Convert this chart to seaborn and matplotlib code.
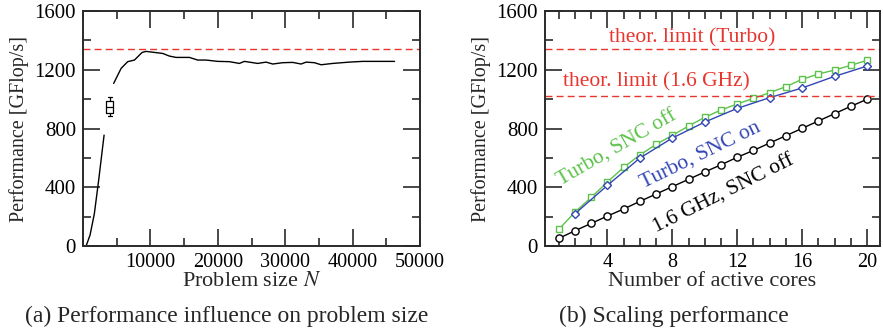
import numpy as np
import pandas as pd
import matplotlib
matplotlib.use("Agg")
import matplotlib.pyplot as plt
import seaborn as sns
from matplotlib.ticker import MultipleLocator, FixedLocator

# ---------------- data ----------------
# (a) performance vs problem size
n_low = [460, 1050, 1690, 2330, 2920, 3130]
p_low = [0, 75, 222, 450, 676, 755]
n_high = [4550, 5650, 6630, 7630, 8770, 9360, 11830, 12820, 13810, 15790,
          17020, 18260, 19990, 21720, 23200, 23950, 25920, 27170, 28150,
          29630, 31110, 32360, 33100, 34330, 35330, 37050, 39530, 41500,
          44000, 46220]
p_high = [1107, 1209, 1255, 1266, 1318, 1325, 1311, 1293, 1284, 1284,
          1266, 1266, 1257, 1255, 1243, 1257, 1243, 1252, 1239,
          1248, 1250, 1239, 1252, 1248, 1234, 1243, 1252, 1257,
          1257, 1257]
box_n = 3950
box_vals = [885, 903, 945, 989, 1016]
limit_turbo = 1344
limit_base = 1024

# (b) scaling
cores = list(range(1, 21))
perf_16_off = [52, 104, 154, 204, 252, 304, 354, 404, 454, 504,
               553, 604, 651, 701, 751, 801, 851, 901, 951, 999]
perf_turbo_off = [113, 231, 331, 436, 536, 620, 692, 753, 817, 876,
                  926, 967, 1005, 1044, 1085, 1135, 1171, 1198, 1230, 1264]
cores_even = [2, 4, 6, 8, 10, 12, 14, 16, 18, 20]
perf_turbo_on = [220, 413, 599, 735, 844, 937, 1010, 1076, 1155, 1225]

# ---------------- style ----------------
sns.set_theme(style="ticks")
plt.rcParams["font.family"] = ["Liberation Serif", "DejaVu Serif"]
plt.rcParams["mathtext.fontset"] = "stix"
YTICK_FS = 15
XTICK_FS = 14.5
YLABEL_FS = 14.5
XLABEL_FS = 16
ANN_FS = 15.5
CAP_FS = 17
SPINE = "#2a2a2a"
RED = "#e8352e"
GREEN = "#5cc24a"
BLUE = "#3346b5"

fig = plt.figure(figsize=(8.83, 3.35), dpi=100)
axA = fig.add_axes([83 / 883, 1 - 246 / 335, 337 / 883, 235 / 335])
axB = fig.add_axes([545 / 883, 1 - 246 / 335, 335 / 883, 235 / 335])

def style_axes(ax):
    for s in ax.spines.values():
        s.set_visible(True)
        s.set_color(SPINE)
        s.set_linewidth(1.4)
    ax.tick_params(which="both", direction="in", top=True, right=True,
                   colors=SPINE, labelcolor="black", width=1.2)
    ax.tick_params(axis="y", labelsize=YTICK_FS)
    ax.tick_params(axis="x", labelsize=XTICK_FS)
    ax.tick_params(which="major", length=12, pad=5)
    ax.tick_params(which="minor", length=6)
    ax.set_ylim(0, 1600)
    ax.yaxis.set_major_locator(MultipleLocator(400))
    ax.yaxis.set_minor_locator(MultipleLocator(200))
    ax.set_ylabel("Performance [GFlop/s]", fontsize=YLABEL_FS, labelpad=4)

# ---------- panel (a) ----------
dfA1 = pd.DataFrame({"N": n_low, "P": p_low})
dfA2 = pd.DataFrame({"N": n_high, "P": p_high})
sns.lineplot(data=dfA1, x="N", y="P", ax=axA, color="black", lw=1.0)
sns.lineplot(data=dfA2, x="N", y="P", ax=axA, color="black", lw=1.0)
dfBox = pd.DataFrame({"N": [box_n] * len(box_vals), "P": box_vals})
sns.boxplot(data=dfBox, x="N", y="P", ax=axA, native_scale=True, width=1150,
            fill=False, color="black", linewidth=0.9, whis=10,
            showfliers=False)
axA.axhline(limit_turbo, color=RED, lw=1.0, ls=(0, (5, 3)))
axA.set_xlim(0, 50000)
axA.xaxis.set_major_locator(FixedLocator([10000, 20000, 30000, 40000, 50000]))
axA.xaxis.set_minor_locator(MultipleLocator(5000))
style_axes(axA)
axA.set_xlabel("Problem size $N$", fontsize=XLABEL_FS, labelpad=0)

# ---------- panel (b) ----------
dfB1 = pd.DataFrame({"c": cores, "p": perf_16_off})
dfB2 = pd.DataFrame({"c": cores, "p": perf_turbo_off})
dfB3 = pd.DataFrame({"c": cores_even, "p": perf_turbo_on})
sns.lineplot(data=dfB2, x="c", y="p", ax=axB, color=GREEN, lw=1.0,
             marker="s", markersize=4.6, markerfacecolor="white",
             markeredgecolor=GREEN, markeredgewidth=1.0)
sns.lineplot(data=dfB3, x="c", y="p", ax=axB, color=BLUE, lw=1.0,
             marker="D", markersize=4.0, markerfacecolor="white",
             markeredgecolor=BLUE, markeredgewidth=1.0)
sns.lineplot(data=dfB1, x="c", y="p", ax=axB, color="black", lw=1.0,
             marker="o", markersize=5.2, markerfacecolor="white",
             markeredgecolor="black", markeredgewidth=1.0)
axB.axhline(limit_turbo, color=RED, lw=1.0, ls=(0, (5, 3)))
axB.axhline(limit_base, color=RED, lw=1.0, ls=(0, (5, 3)))
axB.set_xlim(0.15, 20.8)
axB.xaxis.set_major_locator(FixedLocator([4, 8, 12, 16, 20]))
axB.xaxis.set_minor_locator(MultipleLocator(1))
style_axes(axB)
axB.set_xlabel("Number of active cores", fontsize=XLABEL_FS, labelpad=0)

axB.text(9.25, 1414, "theor. limit (Turbo)", color=RED, fontsize=ANN_FS,
         ha="center", va="center")
axB.text(7.04, 1118, "theor. limit (1.6 GHz)", color=RED, fontsize=ANN_FS,
         ha="center", va="center")
axB.text(4.6, 667, "Turbo, SNC off", color=GREEN, fontsize=ANN_FS, rotation=30,
         ha="center", va="center", rotation_mode="anchor")
axB.text(9.75, 620, "Turbo, SNC on", color=BLUE, fontsize=ANN_FS, rotation=26,
         ha="center", va="center", rotation_mode="anchor")
axB.text(11.2, 355, "1.6 GHz, SNC off", color="black", fontsize=ANN_FS,
         rotation=26.5, ha="center", va="center", rotation_mode="anchor")

# captions
fig.text(226.7 / 883, 1 - 316 / 335, "(a) Performance influence on problem size",
         fontsize=CAP_FS, ha="center", va="center")
fig.text(674 / 883, 1 - 316 / 335, "(b) Scaling performance",
         fontsize=CAP_FS, ha="center", va="center")

fig.savefig("out.png", dpi=100)
